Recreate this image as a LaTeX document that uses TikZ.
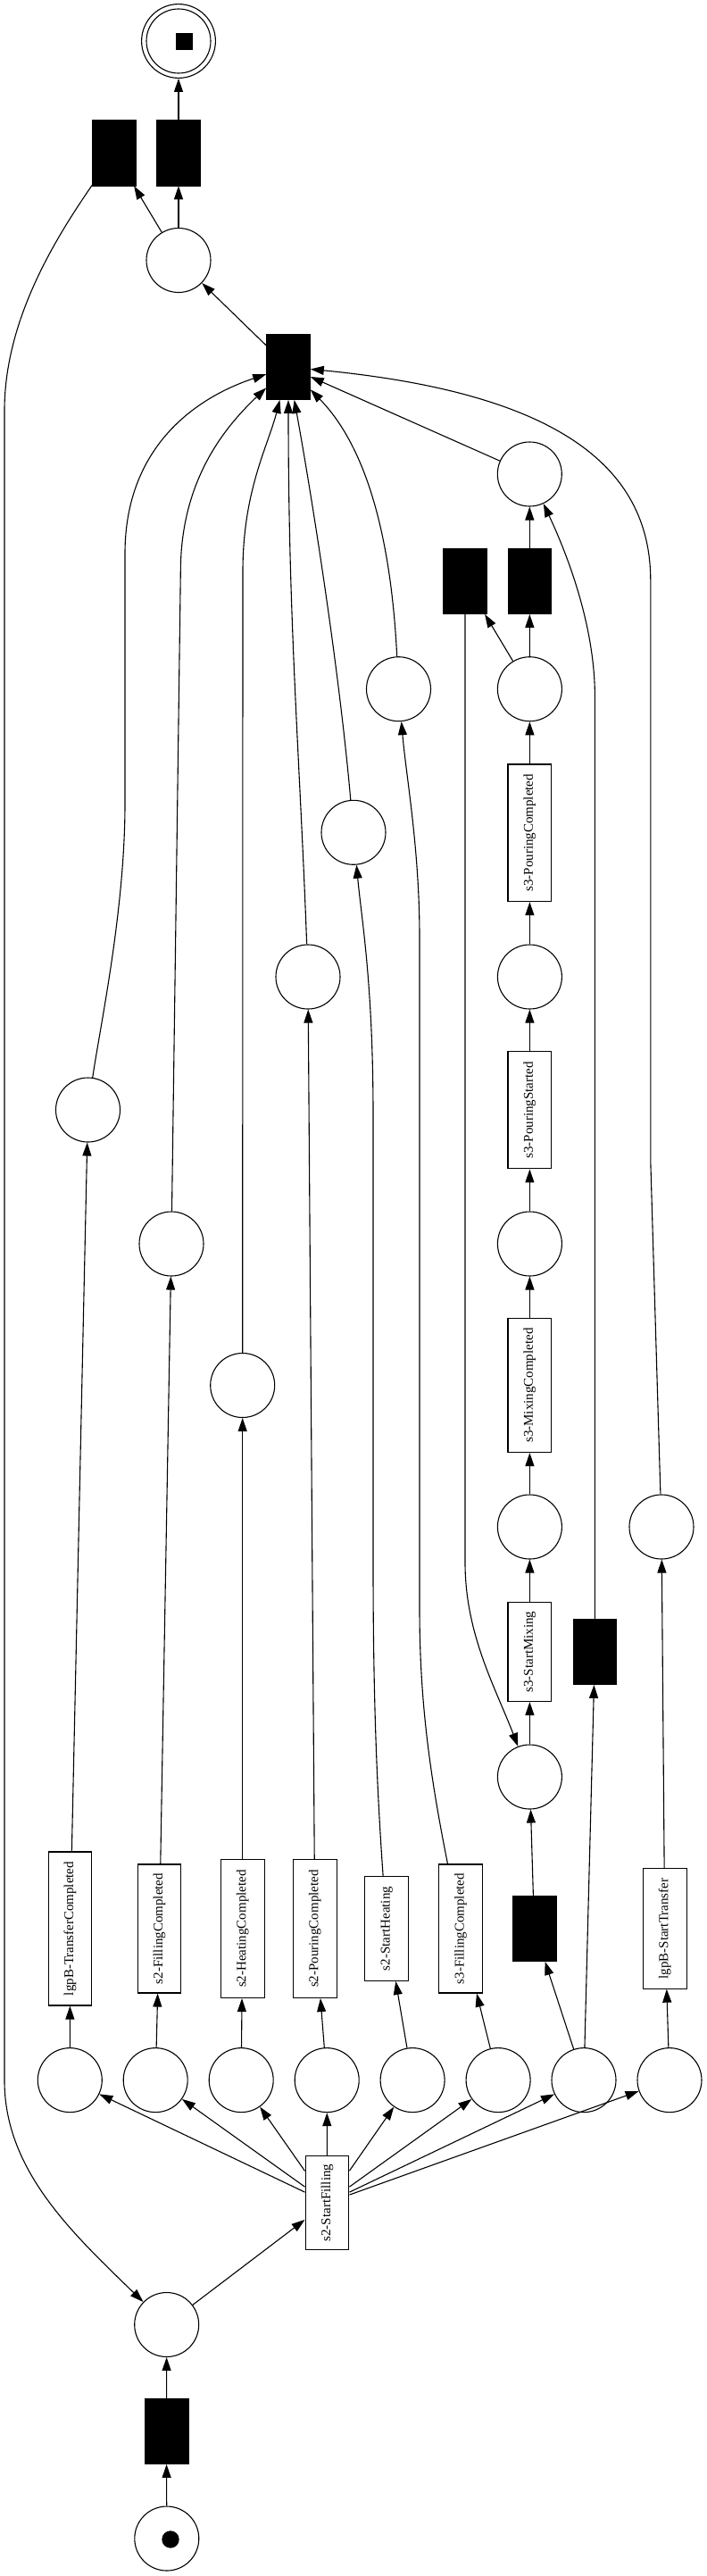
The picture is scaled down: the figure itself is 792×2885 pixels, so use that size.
\documentclass[tikz,border=0pt]{standalone}
\usepackage{fontspec}
\setmainfont{Liberation Serif}
\usetikzlibrary{arrows.meta, positioning}

\begin{document}
\begin{tikzpicture}[
    x=0.5pt, y=-0.5pt,
    place/.style={circle, draw, minimum size=36pt, inner sep=0pt, line width=0.55pt},
    silent/.style={draw, fill=black, minimum width=24.4pt, minimum height=36.5pt, inner sep=0pt},
    trans/.style={draw, fill=white, rotate=90, minimum width=#1, minimum height=24.4pt, inner sep=0pt, line width=0.55pt, font=\fontsize{7.5}{9}\selectfont},
    arc/.style={-{Triangle[length=7.5pt, width=5pt]}, line width=0.55pt}
]
\useasboundingbox (0,0) rectangle (792,2885);

% Start of the net
\node[place] (pStart) at (186.8,2843) {};
\fill (191,2844) circle (4.85pt);
\node[silent] (tStart) at (186.5,2723) {};
\node[place] (p1) at (186.7,2603.5) {};
\node[trans=52.4pt] (tFill) at (366.5,2467) {s2-StartFilling};

% Places after s2-StartFilling
\node[place] (inTC) at (78.3,2329.6) {};
\node[place] (inFC) at (174.2,2329.6) {};
\node[place] (inHC) at (270.2,2329.6) {};
\node[place] (inPC) at (366.2,2329.6) {};
\node[place] (inSH) at (462.1,2329.6) {};
\node[place] (inS3F) at (558.1,2329.6) {};
\node[place] (inTau) at (654,2329.6) {};
\node[place] (inST) at (750,2329.6) {};

% Transitions of the fan
\node[trans=86pt] (tTransferDone) at (78.5,2160) {lgpB-TransferCompleted};
\node[trans=72pt] (tFillDone) at (178.5,2160) {s2-FillingCompleted};
\node[trans=77.5pt] (tHeatDone) at (271.7,2160) {s2-HeatingCompleted};
\node[trans=77.5pt] (tPourDone) at (352.8,2160) {s2-PouringCompleted};
\node[trans=58.4pt] (tStartHeat) at (433.3,2160) {s2-StartHeating};
\node[trans=72pt] (tS3FillDone) at (516,2160) {s3-FillingCompleted};
\node[silent] (tTau) at (598.5,2160) {};
\node[trans=67.1pt] (tStartTransfer) at (744.7,2160) {lgpB-StartTransfer};

% Output places of the fan
\node[place] (outTC) at (98.5,1243) {};
\node[place] (outFC) at (192,1393) {};
\node[place] (outHC) at (271.7,1551.5) {};
\node[place] (outPC) at (345,1094) {};
\node[place] (outSH) at (396,932.3) {};
\node[place] (outS3F) at (446.5,771.7) {};
\node[place] (outST) at (741,1710) {};

% s3 mixing and pouring chain
\node[place] (mix0) at (593.4,1990) {};
\node[trans=55.5pt] (tStartMix) at (593.4,1850) {s3-StartMixing};
\node[silent] (tSkip) at (666.4,1850) {};
\node[place] (mix1) at (593.4,1710) {};
\node[trans=75pt] (tMixDone) at (593.4,1551.5) {s3-MixingCompleted};
\node[place] (mix2) at (593.4,1393) {};
\node[trans=65.5pt] (tPourStart) at (593.4,1243.4) {s3-PouringStarted};
\node[place] (mix3) at (593.4,1094) {};
\node[trans=76.8pt] (tS3PourDone) at (593.4,932.8) {s3-PouringCompleted};
\node[place] (mix4) at (593.4,771.7) {};
\node[silent] (tLoop) at (521,651) {};
\node[silent] (tDone) at (593.3,651) {};
\node[place] (pDone) at (593.3,531) {};

% Join and end of the net
\node[silent] (tJoin) at (323,411) {};
\node[place] (pJoin) at (200,291.5) {};
\node[silent] (tBack) at (128,171.4) {};
\node[silent] (tEnd) at (200,171.4) {};
\node[place, minimum size=41.4pt] (pEnd) at (200,46) {};
\node[place] (pEndIn) at (pEnd) {};
\fill (206.6,46.2) +(-4.75pt,-4.75pt) rectangle +(4.75pt,4.75pt);

% Arcs at the start
\draw[arc] (pStart) -- (tStart);
\draw[arc] (tStart) -- (p1);
\draw[arc] (p1) -- (tFill);
\draw[arc] (tFill) -- (inTC);
\draw[arc] (tFill) -- (inFC);
\draw[arc] (tFill) -- (inHC);
\draw[arc] (tFill) -- (inPC);
\draw[arc] (tFill) -- (inSH);
\draw[arc] (tFill) -- (inS3F);
\draw[arc] (tFill) -- (inTau);
\draw[arc] (tFill) -- (inST);

\draw[arc] (inTC) -- (tTransferDone);
\draw[arc] (inFC) -- (tFillDone);
\draw[arc] (inHC) -- (tHeatDone);
\draw[arc] (inPC) -- (tPourDone);
\draw[arc] (inSH) -- (tStartHeat);
\draw[arc] (inS3F) -- (tS3FillDone);
\draw[arc] (inTau) -- (tTau);
\draw[arc] (inTau) -- (tSkip);
\draw[arc] (inST) -- (tStartTransfer);

% Arcs up to the output places
\draw[arc] (tTransferDone) -- (outTC);
\draw[arc] (tFillDone) -- (outFC);
\draw[arc] (tHeatDone) -- (outHC);
\draw[arc] (tPourDone) -- (outPC);
\draw[arc] (tStartHeat) .. controls (422,2000) and (418,1900) .. (418,1750) -- (418,1250) .. controls (418,1100) and (405,1030) .. (outSH);
\draw[arc] (tS3FillDone) .. controls (480,1980) and (470,1900) .. (470,1800) -- (470,1050) .. controls (470,950) and (455,870) .. (outS3F);
\draw[arc] (tTau) -- (mix0);
\draw[arc] (tStartTransfer) -- (outST);

% Chain of s3
\draw[arc] (mix0) -- (tStartMix);
\draw[arc] (tStartMix) -- (mix1);
\draw[arc] (mix1) -- (tMixDone);
\draw[arc] (tMixDone) -- (mix2);
\draw[arc] (mix2) -- (tPourStart);
\draw[arc] (tPourStart) -- (mix3);
\draw[arc] (mix3) -- (tS3PourDone);
\draw[arc] (tS3PourDone) -- (mix4);
\draw[arc] (mix4) -- (tLoop);
\draw[arc] (mix4) -- (tDone);
\draw[arc] (tDone) -- (pDone);
\draw[arc] (tLoop) -- (521,1750) .. controls (521,1830) and (555,1890) .. (mix0);
\draw[arc] (tSkip) -- (666.4,780) .. controls (666.4,700) and (635,620) .. (pDone);

% Arcs into the join
\draw[arc] (outTC) .. controls (112,1150) and (140,1020) .. (140,900) -- (140,620) .. controls (140,500) and (220,445) .. (tJoin);
\draw[arc] (outFC) -- (202.3,640) .. controls (202.3,540) and (250,480) .. (tJoin);
\draw[arc] (outHC) -- (272,640) .. controls (272,550) and (300,500) .. (tJoin);
\draw[arc] (outPC) .. controls (336,850) and (323,700) .. (tJoin);
\draw[arc] (outSH) .. controls (380,750) and (350,560) .. (tJoin);
\draw[arc] (outS3F) .. controls (438,600) and (410,500) .. (tJoin);
\draw[arc] (pDone) -- (tJoin);
\draw[arc] (outST) -- (728.8,1300) -- (728.8,650) .. controls (728.8,520) and (620,440) .. (tJoin);

% End and loop back
\draw[arc] (tJoin) -- (pJoin);
\draw[arc] (pJoin) -- (tBack);
\draw[arc] (pJoin) -- (tEnd);
\draw[arc] (tEnd) -- (pEnd);
\draw[arc] (tBack) .. controls (60,270) and (5,360) .. (5,460) -- (5,2330) .. controls (5,2430) and (80,2500) .. (p1);

\end{tikzpicture}
\end{document}
